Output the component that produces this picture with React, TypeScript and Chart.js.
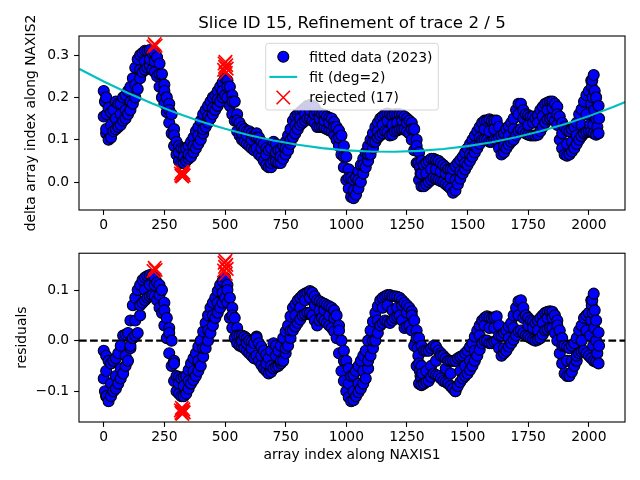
import React, { useEffect, useRef } from "react";
import { Chart, registerables } from "chart.js";

Chart.register(...registerables);

// ---------------- data ----------------
const TITLE = "Slice ID 15, Refinement of trace 2 / 5";
const Y_TITLE_TOP = "delta array index along NAXIS2";
const Y_TITLE_BOTTOM = "residuals";
const X_TITLE = "array index along NAXIS1";
const LABEL_DATA = "fitted data (2023)";
const LABEL_FIT = "fit (deg=2)";
const LABEL_REJ = "rejected (17)";

// upper / lower edge of the point band at pixel index 0,10,20,...
// middle of the band at pixel index 10,30,50,...
const HILO_STEP = 10;
const MID_STEP = 20;
const MID_OFFSET = 10;

const deltaHi = [
  0.215, 0.2, 0.175, 0.165, 0.17, 0.19, 0.185, 0.185, 0.2, 0.205,
  0.215, 0.225, 0.245, 0.27, 0.29, 0.3, 0.305, 0.31, 0.31, 0.312,
  0.305, 0.305, 0.295, 0.28, 0.255, 0.23, 0.2, 0.185, 0.16, 0.125,
  0.095, 0.085, 0.08, 0.078, 0.08, 0.085, 0.095, 0.105, 0.12, 0.13,
  0.145, 0.16, 0.17, 0.18, 0.19, 0.2, 0.205, 0.215, 0.225, 0.235,
  0.245, 0.24, 0.225, 0.205, 0.19, 0.16, 0.14, 0.13, 0.125, 0.12,
  0.12, 0.115, 0.11, 0.115, 0.105, 0.095, 0.09, 0.08, 0.075, 0.08,
  0.095, 0.09, 0.075, 0.075, 0.085, 0.095, 0.11, 0.125, 0.145, 0.155,
  0.16, 0.165, 0.17, 0.175, 0.18, 0.182, 0.18, 0.175, 0.165, 0.162,
  0.16, 0.158, 0.155, 0.152, 0.15, 0.142, 0.13, 0.122, 0.11, 0.085,
  0.06, 0.03, 0.01, 0.005, 0.01, 0.025, 0.04, 0.055, 0.07, 0.085,
  0.1, 0.115, 0.13, 0.14, 0.15, 0.155, 0.16, 0.162, 0.16, 0.158,
  0.16, 0.16, 0.16, 0.158, 0.155, 0.15, 0.145, 0.14, 0.125, 0.1,
  0.07, 0.05, 0.04, 0.045, 0.05, 0.055, 0.055, 0.052, 0.05, 0.045,
  0.04, 0.035, 0.03, 0.03, 0.03, 0.038, 0.045, 0.052, 0.06, 0.07,
  0.08, 0.09, 0.1, 0.11, 0.12, 0.13, 0.14, 0.145, 0.145, 0.148,
  0.145, 0.145, 0.145, 0.13, 0.11, 0.115, 0.125, 0.132, 0.14, 0.15,
  0.17, 0.185, 0.185, 0.17, 0.16, 0.158, 0.155, 0.155, 0.15, 0.158,
  0.17, 0.178, 0.185, 0.188, 0.19, 0.19, 0.185, 0.178, 0.155, 0.14,
  0.13, 0.122, 0.12, 0.125, 0.13, 0.14, 0.16, 0.172, 0.19, 0.205,
  0.215, 0.24, 0.253, 0.2, 0.18,
];
const deltaLo = [
  0.155, 0.115, 0.1, 0.105, 0.12, 0.125, 0.13, 0.135, 0.145, 0.15,
  0.16, 0.17, 0.185, 0.2, 0.22, 0.245, 0.26, 0.265, 0.27, 0.275,
  0.265, 0.26, 0.25, 0.225, 0.2, 0.185, 0.165, 0.14, 0.115, 0.085,
  0.065, 0.05, 0.045, 0.045, 0.05, 0.055, 0.06, 0.07, 0.08, 0.09,
  0.1, 0.115, 0.13, 0.14, 0.15, 0.16, 0.17, 0.18, 0.19, 0.2,
  0.205, 0.2, 0.18, 0.16, 0.145, 0.12, 0.11, 0.1, 0.095, 0.09,
  0.085, 0.08, 0.075, 0.08, 0.065, 0.06, 0.05, 0.04, 0.035, 0.035,
  0.05, 0.05, 0.045, 0.045, 0.055, 0.065, 0.075, 0.09, 0.105, 0.115,
  0.125, 0.135, 0.14, 0.145, 0.15, 0.15, 0.145, 0.14, 0.13, 0.13,
  0.13, 0.128, 0.125, 0.122, 0.12, 0.112, 0.1, 0.085, 0.065, 0.035,
  0.005, -0.015, -0.035, -0.038, -0.03, -0.015, 0.0, 0.02, 0.035, 0.05,
  0.065, 0.08, 0.095, 0.105, 0.11, 0.115, 0.12, 0.118, 0.11, 0.112,
  0.12, 0.122, 0.125, 0.125, 0.125, 0.12, 0.115, 0.1, 0.075, 0.045,
  0.005, -0.01, -0.01, -0.005, 0.0, 0.005, 0.01, 0.008, 0.005, 0.002,
  0.0, -0.005, -0.01, -0.015, -0.025, -0.02, -0.005, 0.008, 0.02, 0.03,
  0.04, 0.05, 0.06, 0.07, 0.08, 0.09, 0.1, 0.1, 0.1, 0.095,
  0.095, 0.1, 0.1, 0.08, 0.065, 0.07, 0.08, 0.088, 0.095, 0.1,
  0.11, 0.12, 0.125, 0.12, 0.115, 0.112, 0.11, 0.11, 0.11, 0.112,
  0.12, 0.13, 0.14, 0.148, 0.15, 0.152, 0.145, 0.135, 0.1, 0.08,
  0.065, 0.062, 0.065, 0.072, 0.08, 0.09, 0.1, 0.108, 0.115, 0.118,
  0.12, 0.12, 0.115, 0.112, 0.115,
];
const deltaMid = [
  0.125, 0.135, 0.15, 0.16, 0.17, 0.19, 0.23, 0.265, 0.285, 0.29,
  0.285, 0.255, 0.215, 0.17, 0.11, 0.07, 0.06, 0.065, 0.085, 0.11,
  0.125, 0.155, 0.175, 0.195, 0.215, 0.225, 0.19, 0.145, 0.115, 0.11,
  0.1, 0.105, 0.08, 0.065, 0.045, 0.07, 0.06, 0.08, 0.1, 0.135,
  0.15, 0.16, 0.17, 0.16, 0.15, 0.145, 0.14, 0.13, 0.105, 0.06,
  0.01, -0.02, 0.005, 0.04, 0.065, 0.095, 0.12, 0.135, 0.145, 0.135,
  0.14, 0.145, 0.14, 0.125, 0.085, 0.02, 0.02, 0.03, 0.03, 0.025,
  0.02, 0.01, 0.005, 0.025, 0.045, 0.065, 0.085, 0.105, 0.125, 0.12,
  0.125, 0.105, 0.085, 0.11, 0.125, 0.16, 0.15, 0.135, 0.14, 0.14,
  0.155, 0.17, 0.175, 0.16, 0.115, 0.09, 0.095, 0.11, 0.135, 0.16,
  0.185, 0.15,
];
const deltaExtraIdx = [5, 12, 1297, 1303, 1306, 2005, 2012, 2014, 2016, 2018, 2022, 2024, 2035, 2042];
const deltaExtra = [0.19, 0.16, 0.045, 0.035, 0.02, 0.135, 0.225, 0.24, 0.2, 0.135, 0.17, 0.215, 0.13, 0.15];

const resHi = [
  -0.02, -0.03, -0.04, -0.045, -0.04, -0.035, -0.025, -0.01, 0.01, 0.012,
  0.015, 0.04, 0.07, 0.085, 0.1, 0.11, 0.12, 0.125, 0.128, 0.13,
  0.128, 0.125, 0.115, 0.11, 0.1, 0.075, 0.045, 0.025, 0.0, -0.04,
  -0.07, -0.072, -0.075, -0.072, -0.07, -0.058, -0.045, -0.035, -0.025, -0.012,
  0.0, 0.018, 0.035, 0.05, 0.065, 0.075, 0.085, 0.098, 0.11, 0.118,
  0.125, 0.11, 0.085, 0.065, 0.045, 0.025, 0.01, 0.01, 0.008, 0.004,
  0.0, -0.002, -0.005, 0.008, -0.005, -0.012, -0.02, -0.028, -0.035, -0.02,
  -0.005, -0.01, -0.02, -0.01, 0.005, 0.018, 0.03, 0.048, 0.065, 0.072,
  0.08, 0.085, 0.09, 0.093, 0.095, 0.098, 0.095, 0.088, 0.08, 0.078,
  0.075, 0.073, 0.07, 0.068, 0.065, 0.06, 0.05, 0.03, 0.0, -0.02,
  -0.04, -0.055, -0.07, -0.068, -0.06, -0.05, -0.04, -0.03, -0.02, 0.0,
  0.02, 0.038, 0.055, 0.068, 0.08, 0.085, 0.088, 0.09, 0.09, 0.088,
  0.088, 0.087, 0.085, 0.08, 0.075, 0.07, 0.065, 0.058, 0.04, 0.02,
  0.005, -0.01, -0.02, -0.02, -0.02, -0.015, -0.01, -0.012, -0.02, -0.025,
  -0.03, -0.035, -0.04, -0.04, -0.04, -0.04, -0.035, -0.032, -0.03, -0.025,
  -0.02, -0.012, -0.005, 0.008, 0.02, 0.03, 0.04, 0.045, 0.048, 0.046,
  0.045, 0.046, 0.048, 0.03, 0.01, 0.015, 0.02, 0.028, 0.035, 0.05,
  0.065, 0.078, 0.08, 0.065, 0.05, 0.045, 0.04, 0.038, 0.035, 0.04,
  0.045, 0.05, 0.055, 0.057, 0.058, 0.057, 0.05, 0.04, 0.02, 0.005,
  -0.01, -0.012, -0.015, -0.01, -0.005, 0.005, 0.02, 0.03, 0.045, 0.05,
  0.055, 0.08, 0.093, 0.04, 0.016,
];
const resLo = [
  -0.075, -0.11, -0.12, -0.11, -0.1, -0.095, -0.085, -0.075, -0.065, -0.05,
  -0.04, -0.015, 0.005, 0.01, 0.015, 0.05, 0.075, 0.08, 0.085, 0.088,
  0.09, 0.088, 0.08, 0.065, 0.055, 0.03, 0.005, -0.025, -0.05, -0.08,
  -0.1, -0.105, -0.11, -0.11, -0.105, -0.095, -0.085, -0.078, -0.07, -0.06,
  -0.05, -0.032, -0.015, 0.0, 0.015, 0.03, 0.045, 0.055, 0.065, 0.075,
  0.085, 0.075, 0.045, 0.025, 0.005, -0.005, -0.01, -0.012, -0.015, -0.02,
  -0.025, -0.03, -0.035, -0.03, -0.04, -0.048, -0.055, -0.06, -0.065, -0.062,
  -0.055, -0.052, -0.05, -0.045, -0.04, -0.025, -0.01, 0.005, 0.02, 0.028,
  0.035, 0.042, 0.05, 0.052, 0.055, 0.055, 0.05, 0.04, 0.03, 0.04,
  0.045, 0.04, 0.035, 0.03, 0.025, 0.018, 0.005, -0.025, -0.06, -0.08,
  -0.1, -0.112, -0.12, -0.118, -0.11, -0.102, -0.095, -0.085, -0.075, -0.055,
  -0.03, -0.015, 0.0, 0.015, 0.03, 0.035, 0.04, 0.038, 0.035, 0.04,
  0.045, 0.048, 0.05, 0.04, 0.025, 0.028, 0.03, 0.02, -0.01, -0.05,
  -0.085, -0.088, -0.085, -0.082, -0.08, -0.072, -0.065, -0.068, -0.07, -0.075,
  -0.08, -0.082, -0.085, -0.09, -0.095, -0.1, -0.09, -0.082, -0.075, -0.07,
  -0.065, -0.058, -0.05, -0.04, -0.03, -0.018, -0.005, 0.0, 0.0, -0.005,
  -0.005, -0.002, 0.0, -0.015, -0.03, -0.025, -0.02, -0.012, -0.005, 0.002,
  0.01, 0.018, 0.02, 0.015, 0.01, 0.008, 0.005, 0.002, 0.0, 0.002,
  0.005, 0.012, 0.02, 0.022, 0.025, 0.025, 0.015, 0.0, -0.025, -0.045,
  -0.065, -0.07, -0.07, -0.062, -0.05, -0.04, -0.025, -0.022, -0.02, -0.025,
  -0.03, -0.035, -0.04, -0.042, -0.045,
];
const resMid = [
  -0.06, -0.085, -0.07, -0.055, -0.03, -0.01, 0.04, 0.07, 0.1, 0.11,
  0.11, 0.09, 0.06, 0.015, -0.045, -0.085, -0.09, -0.08, -0.06, -0.04,
  -0.015, 0.02, 0.05, 0.075, 0.095, 0.1, 0.05, 0.01, 0.0, -0.005,
  -0.015, 0.005, -0.03, -0.045, -0.05, -0.03, -0.04, -0.015, 0.02, 0.05,
  0.065, 0.08, 0.085, 0.07, 0.06, 0.06, 0.05, 0.045, 0.02, -0.04,
  -0.085, -0.1, -0.085, -0.06, -0.04, 0.0, 0.04, 0.065, 0.07, 0.06,
  0.065, 0.07, 0.055, 0.05, 0.005, -0.05, -0.06, -0.05, -0.04, -0.03,
  -0.055, -0.065, -0.1, -0.06, -0.05, -0.04, -0.02, 0.01, 0.03, 0.025,
  0.025, 0.01, -0.015, 0.005, 0.025, 0.05, 0.045, 0.03, 0.025, 0.02,
  0.035, 0.045, 0.045, 0.03, -0.01, -0.04, -0.04, -0.03, 0.0, 0.02,
  0.04, 0.0,
];
const resExtraIdx = [5, 12, 1294, 1297, 1300, 1303, 1306, 1309, 1313, 2005, 2012, 2014, 2016, 2018, 2022, 2024, 2035, 2042];
const resExtra = [-0.1, -0.11, -0.015, -0.03, -0.045, -0.06, -0.07, -0.075, -0.065, 0.01, 0.07, 0.08, 0.055, -0.01, 0.025, 0.06, -0.025, -0.01];

const rejIdx = [205, 210, 214, 318, 320, 322, 324, 326, 328, 330, 496, 498, 500, 502, 503, 505, 507];
const rejDelta = [0.32, 0.326, 0.322, 0.02, 0.015, 0.025, 0.013, 0.018, 0.022, 0.016, 0.265, 0.28, 0.272, 0.284, 0.258, 0.276, 0.268];
const rejRes = [0.138, 0.144, 0.14, -0.138, -0.143, -0.133, -0.145, -0.14, -0.136, -0.142, 0.139, 0.154, 0.146, 0.158, 0.132, 0.15, 0.142];

const fitIdx = [-100, 0, 100, 200, 300, 400, 500, 600, 700, 800, 900, 1000, 1100, 1200, 1300, 1400, 1500, 1600, 1700, 1800, 1900, 2000, 2100, 2150];
const fitVal = [0.267, 0.2375, 0.2103, 0.1855, 0.1632, 0.1433, 0.1258, 0.1108, 0.0982, 0.088, 0.0802, 0.0749, 0.0721, 0.0716, 0.0736, 0.0781, 0.0849, 0.0942, 0.1059, 0.1201, 0.1367, 0.1557, 0.1772, 0.1889];

const xTicks = [0, 250, 500, 750, 1000, 1250, 1500, 1750, 2000];
const yTicksTop = [0.0, 0.1, 0.2, 0.3];
const yTicksBottom = [-0.1, 0.0, 0.1];

const X_RANGE = [-102, 2149];
const Y_RANGE_TOP = [-0.066, 0.345];
const Y_RANGE_BOTTOM = [-0.161, 0.173];

// ---------------- helpers ----------------
const FONT = "'DejaVu Sans', 'Liberation Sans', sans-serif";
const TICK_SIZE = 13.89;

type P = { x: number; y: number };

function bandPoints(hi: number[], lo: number[], mid: number[], exX: number[], exY: number[]): P[] {
  const pts: P[] = [];
  hi.forEach((v, i) => {
    pts.push({ x: i * HILO_STEP, y: v });
    pts.push({ x: i * HILO_STEP, y: lo[i] });
  });
  mid.forEach((v, i) => pts.push({ x: i * MID_STEP + MID_OFFSET, y: v }));
  exX.forEach((x, i) => pts.push({ x, y: exY[i] }));
  pts.sort((a, b) => a.x - b.x);
  return pts;
}

function zip(xs: number[], ys: number[]): P[] {
  return xs.map((x, i) => ({ x, y: ys[i] }));
}

function fmtY(v: number) {
  const s = Math.abs(v) < 1e-9 ? "0.0" : v.toFixed(1);
  return s.replace("-", "\u2212");
}

const framePlugin = {
  id: "frame",
  afterDraw(chart: any) {
    const { ctx, chartArea: a } = chart;
    ctx.save();
    ctx.strokeStyle = "#000";
    ctx.lineWidth = 1.1;
    ctx.strokeRect(a.left, a.top, a.right - a.left, a.bottom - a.top);
    ctx.restore();
  },
};

const titlePlugin = {
  id: "mplTitle",
  afterDraw(chart: any) {
    const { ctx, chartArea: a } = chart;
    ctx.save();
    ctx.font = `16.67px ${FONT}`;
    ctx.fillStyle = "#000";
    ctx.textAlign = "center";
    ctx.textBaseline = "alphabetic";
    ctx.fillText(TITLE, (a.left + a.right) / 2, 27.5);
    ctx.restore();
  },
};

const zeroLinePlugin = {
  id: "zeroLine",
  beforeDatasetsDraw(chart: any) {
    const { ctx, chartArea: a, scales } = chart;
    const y = scales.y.getPixelForValue(0);
    ctx.save();
    ctx.strokeStyle = "#000";
    ctx.lineWidth = 2.08;
    ctx.setLineDash([7.7, 3.33]);
    ctx.beginPath();
    ctx.moveTo(a.left, y);
    ctx.lineTo(a.right, y);
    ctx.stroke();
    ctx.restore();
  },
};

const legendPlugin = {
  id: "mplLegend",
  afterDraw(chart: any) {
    const ctx = chart.ctx;
    const ds = chart.data.datasets;
    ctx.save();
    ctx.beginPath();
    ctx.roundRect(265.7, 43.3, 172.6, 66.7, 2.8);
    ctx.fillStyle = "rgba(255,255,255,0.8)";
    ctx.fill();
    ctx.lineWidth = 1;
    ctx.strokeStyle = "rgba(204,204,204,0.8)";
    ctx.stroke();

    const rows = [56.7, 76.9, 97.5];
    const hx = 283.3;
    ctx.beginPath();
    ctx.arc(hx, rows[0], 5.5, 0, Math.PI * 2);
    ctx.fillStyle = "#0000ff";
    ctx.fill();
    ctx.lineWidth = 1.1;
    ctx.strokeStyle = "#000";
    ctx.stroke();
    ctx.beginPath();
    ctx.moveTo(269.4, rows[1]);
    ctx.lineTo(297.2, rows[1]);
    ctx.lineWidth = 2.08;
    ctx.strokeStyle = "#00bfbf";
    ctx.stroke();
    const h = 6.7;
    ctx.beginPath();
    ctx.moveTo(hx - h, rows[2] - h);
    ctx.lineTo(hx + h, rows[2] + h);
    ctx.moveTo(hx + h, rows[2] - h);
    ctx.lineTo(hx - h, rows[2] + h);
    ctx.lineWidth = 1.6;
    ctx.strokeStyle = "#ff0000";
    ctx.stroke();
    ctx.font = `${TICK_SIZE}px ${FONT}`;
    ctx.fillStyle = "#000";
    ctx.textAlign = "left";
    ctx.textBaseline = "alphabetic";
    ds.forEach((d: any, i: number) => ctx.fillText(d.label, 309.3, rows[i] + 4.8));
    ctx.restore();
  },
};

function axisCommon() {
  return {
    grid: {
      display: true,
      drawOnChartArea: false,
      drawTicks: true,
      tickLength: 4.9,
      tickWidth: 1.1,
      tickColor: "#000",
      color: "#000",
    },
    border: { display: false },
  };
}

function makeConfig(opts: {
  data: P[];
  rej: P[];
  fit: P[] | null;
  yRange: number[];
  yTicks: number[];
  yTitle: string;
  yTitlePad: number;
  xTitle: string | null;
  padTop: number;
  xHeight: number;
  plugins: any[];
}): any {
  const datasets: any[] = [
    {
      label: LABEL_DATA,
      data: opts.data,
      pointStyle: "circle",
      pointRadius: 5.5,
      backgroundColor: "#0000ff",
      borderColor: "#000000",
      borderWidth: 1.1,
      order: 3,
    },
  ];
  if (opts.fit) {
    datasets.push({
      label: LABEL_FIT,
      data: opts.fit,
      showLine: true,
      pointRadius: 0,
      borderColor: "#00bfbf",
      backgroundColor: "#00bfbf",
      borderWidth: 2.08,
      fill: false,
      order: 2,
    });
  }
  datasets.push({
    label: LABEL_REJ,
    data: opts.rej,
    pointStyle: "crossRot",
    pointRadius: 9.5,
    borderColor: "#ff0000",
    backgroundColor: "#ff0000",
    borderWidth: 1.6,
    order: 1,
  });

  return {
    type: "scatter",
    data: { datasets },
    options: {
      animation: false,
      responsive: false,
      events: [],
      layout: { padding: { left: 0, right: 15, top: opts.padTop, bottom: 0 } },
      plugins: {
        legend: { display: false },
        tooltip: { enabled: false },
        title: { display: false },
      },
      scales: {
        x: {
          type: "linear",
          min: X_RANGE[0],
          max: X_RANGE[1],
          ...axisCommon(),
          afterBuildTicks: (s: any) => {
            s.ticks = xTicks.map((v) => ({ value: v }));
          },
          afterFit: (s: any) => {
            s.height = opts.xHeight;
          },
          ticks: {
            color: "#000",
            font: { family: FONT, size: TICK_SIZE },
            padding: 2,
            maxRotation: 0,
            autoSkip: false,
            callback: (v: any) => String(v),
          },
          title: {
            display: !!opts.xTitle,
            text: opts.xTitle || "",
            color: "#000",
            font: { family: FONT, size: TICK_SIZE },
            padding: { top: 0, bottom: 16.5 },
          },
        },
        y: {
          type: "linear",
          min: opts.yRange[0],
          max: opts.yRange[1],
          ...axisCommon(),
          afterBuildTicks: (s: any) => {
            s.ticks = opts.yTicks.map((v) => ({ value: v }));
          },
          afterFit: (s: any) => {
            s.width = 79;
          },
          ticks: {
            color: "#000",
            font: { family: FONT, size: TICK_SIZE },
            padding: 4.9,
            autoSkip: false,
            callback: (v: any) => fmtY(Number(v)),
          },
          title: {
            display: true,
            text: opts.yTitle,
            color: "#000",
            font: { family: FONT, size: TICK_SIZE },
            padding: { top: opts.yTitlePad, bottom: 0 },
          },
        },
      },
    },
    plugins: opts.plugins,
  };
}

export default function App() {
  const topRef = useRef<HTMLCanvasElement>(null);
  const botRef = useRef<HTMLCanvasElement>(null);

  useEffect(() => {
    document.body.style.margin = "0";
    const topChart = new Chart(
      topRef.current as HTMLCanvasElement,
      makeConfig({
        data: bandPoints(deltaHi, deltaLo, deltaMid, deltaExtraIdx, deltaExtra),
        rej: zip(rejIdx, rejDelta),
        fit: zip(fitIdx, fitVal),
        yRange: Y_RANGE_TOP,
        yTicks: yTicksTop,
        yTitle: Y_TITLE_TOP,
        yTitlePad: 23.5,
        xTitle: null,
        padTop: 36,
        xHeight: 30,
        plugins: [framePlugin, titlePlugin, legendPlugin],
      })
    );
    const botChart = new Chart(
      botRef.current as HTMLCanvasElement,
      makeConfig({
        data: bandPoints(resHi, resLo, resMid, resExtraIdx, resExtra),
        rej: zip(rejIdx, rejRes),
        fit: null,
        yRange: Y_RANGE_BOTTOM,
        yTicks: yTicksBottom,
        yTitle: Y_TITLE_BOTTOM,
        yTitlePad: 14.5,
        xTitle: X_TITLE,
        padTop: 8,
        xHeight: 58,
        plugins: [zeroLinePlugin, framePlugin],
      })
    );
    return () => {
      topChart.destroy();
      botChart.destroy();
    };
  }, []);

  return (
    <div style={{ position: "fixed", left: 0, top: 0, width: 640, height: 480, background: "#fff" }}>
      <canvas
        ref={topRef}
        width={640}
        height={240}
        style={{ position: "absolute", left: 0, top: 0, width: 640, height: 240 }}
      />
      <canvas
        ref={botRef}
        width={640}
        height={240}
        style={{ position: "absolute", left: 0, top: 240, width: 640, height: 240 }}
      />
    </div>
  );
}
